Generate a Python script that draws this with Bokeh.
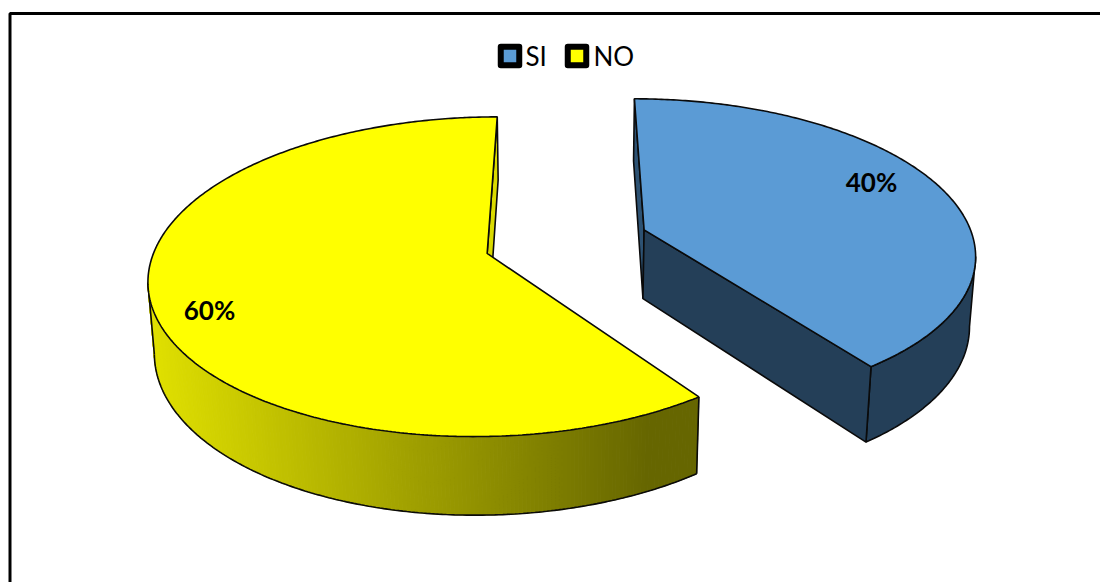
import numpy as np
from bokeh.plotting import figure
from bokeh.embed import file_html
from bokeh.resources import INLINE
from bokeh.core.properties import value
from bokeh.models import Range1d

categories = ["SI", "NO"]
shares = [40, 60]
labels = ["40%", "60%"]
top_colors = ["#5B9BD5", "#FFFF00"]
legend_keys = ["#5B9BD5", "#FFFF00"]

W, H = 1100, 582
p = figure(width=W, height=H, output_backend="svg", toolbar_location=None,
           x_range=Range1d(0, W), y_range=Range1d(H, 0),
           min_border=0, outline_line_color=None)
p.axis.visible = False
p.grid.visible = False

# frame
p.line([9.5, 9.5, 1100], [582, 13, 13], line_color="#000000", line_width=3)

# perspective projection of the 3D pie
X0, Y0 = 566.0, 241.0
A, B, C = 330.0, 153.0, 70.5
K, M = 0.144, 0.015
EXPL = 0.25


def project(x, y, z=0.0):
    d = 1 + K * np.asarray(y) + M * z
    return X0 + A * np.asarray(x) / d, Y0 + (-B * np.asarray(y) + C * z) / d


def mix(c, f):
    return "#%02x%02x%02x" % tuple(int(round(v * f)) for v in c)


fracs = np.cumsum([0] + shares) / sum(shares) * 2 * np.pi
mid = (fracs[0] + fracs[1]) / 2
ex, ey = EXPL * np.sin(mid), EXPL * np.cos(mid)
off = [(ex, ey), (-ex, -ey)]
OUT = "#0a0a0a"
LW = 1.6

th_b = np.linspace(fracs[0], fracs[1], 240)
th_y = np.linspace(fracs[1], fracs[2], 360)


def rim(theta, o):
    return o[0] + np.sin(theta), o[1] + np.cos(theta)


def quad(xw, yw, color, lc=OUT, lw=LW):
    xt, yt = project(xw, yw, 0)
    xb, yb = project(xw, yw, 1)
    xs = list(xt) + list(xb[::-1])
    ys = list(yt) + list(yb[::-1])
    p.patch(xs, ys, fill_color=color, line_color=lc, line_width=lw)


# blue slice: start face, end face, outer rim from its right silhouette
BLUE_DARK = "#243F58"
quad([off[0][0], off[0][0] + np.sin(fracs[0])], [off[0][1], off[0][1] + np.cos(fracs[0])], "#2D5273")
xw, yw = rim(th_b, off[0])
xt, _ = project(xw, yw, 0)
xw, yw = rim(th_b[np.argmax(xt):], off[0])
quad(xw, yw, BLUE_DARK)
ax, ay = rim(fracs[1], off[0])
quad([off[0][0], ax], [off[0][1], ay], BLUE_DARK)

# yellow slice: end face at 12 o'clock, shaded outer rim up to its left silhouette
ax, ay = rim(fracs[2], off[1])
quad([off[1][0], ax], [off[1][1], ay], "#DADA00")

xw, yw = rim(th_y, off[1])
xt, _ = project(xw, yw, 0)
front = th_y[: np.argmin(xt) + 1]
xw, yw = rim(front, off[1])
xt, yt = project(xw, yw, 0)
xb, yb = project(xw, yw, 1)
lo, hi = xt.min(), xt.max()
YEL = np.array([255, 255, 0])
for i in range(len(front) - 1):
    t = ((xt[i] + xt[i + 1]) / 2 - lo) / (hi - lo)
    f = np.clip(0.88 - 0.48 * t / 0.91, 0.4, 1)
    c = mix(YEL, f)
    p.patch([xt[i], xt[i + 1], xb[i + 1], xb[i]], [yt[i], yt[i + 1], yb[i + 1], yb[i]],
            fill_color=c, line_color=c, line_width=1)
p.line(xb, yb, line_color=OUT, line_width=LW)
p.line([xt[-1], xb[-1]], [yt[-1], yb[-1]], line_color=OUT, line_width=LW)
p.line([xt[0], xb[0]], [yt[0], yb[0]], line_color=OUT, line_width=LW)

# top faces
for i, th in enumerate([th_b, th_y]):
    xw, yw = rim(th, off[i])
    xs = np.r_[off[i][0], xw]
    ys = np.r_[off[i][1], yw]
    xp, yp = project(xs, ys, 0)
    p.patch(xp, yp, fill_color=top_colors[i], line_color=OUT, line_width=LW)

# data labels
p.text([871], [181], text=[labels[0]], text_font=value("Lato"), text_font_style="bold",
       text_font_size="26px", text_align="center", text_baseline="middle", text_color="#000000")
p.text([209], [309], text=[labels[1]], text_font=value("Lato"), text_font_style="bold",
       text_font_size="26px", text_align="center", text_baseline="middle", text_color="#000000")

# legend
key_x = [509.5, 576.5]
text_x = [525, 593]
for i in range(2):
    p.rect([key_x[i]], [55.5], width=18.5, height=18.5, fill_color=legend_keys[i],
           line_color="#000000", line_width=6, line_join="round")
    p.text([text_x[i]], [55], text=[categories[i]], text_font=value("Lato"),
           text_font_size="26px", text_align="left", text_baseline="middle", text_color="#000000")

open("out.html", "w").write(file_html(p, INLINE))
